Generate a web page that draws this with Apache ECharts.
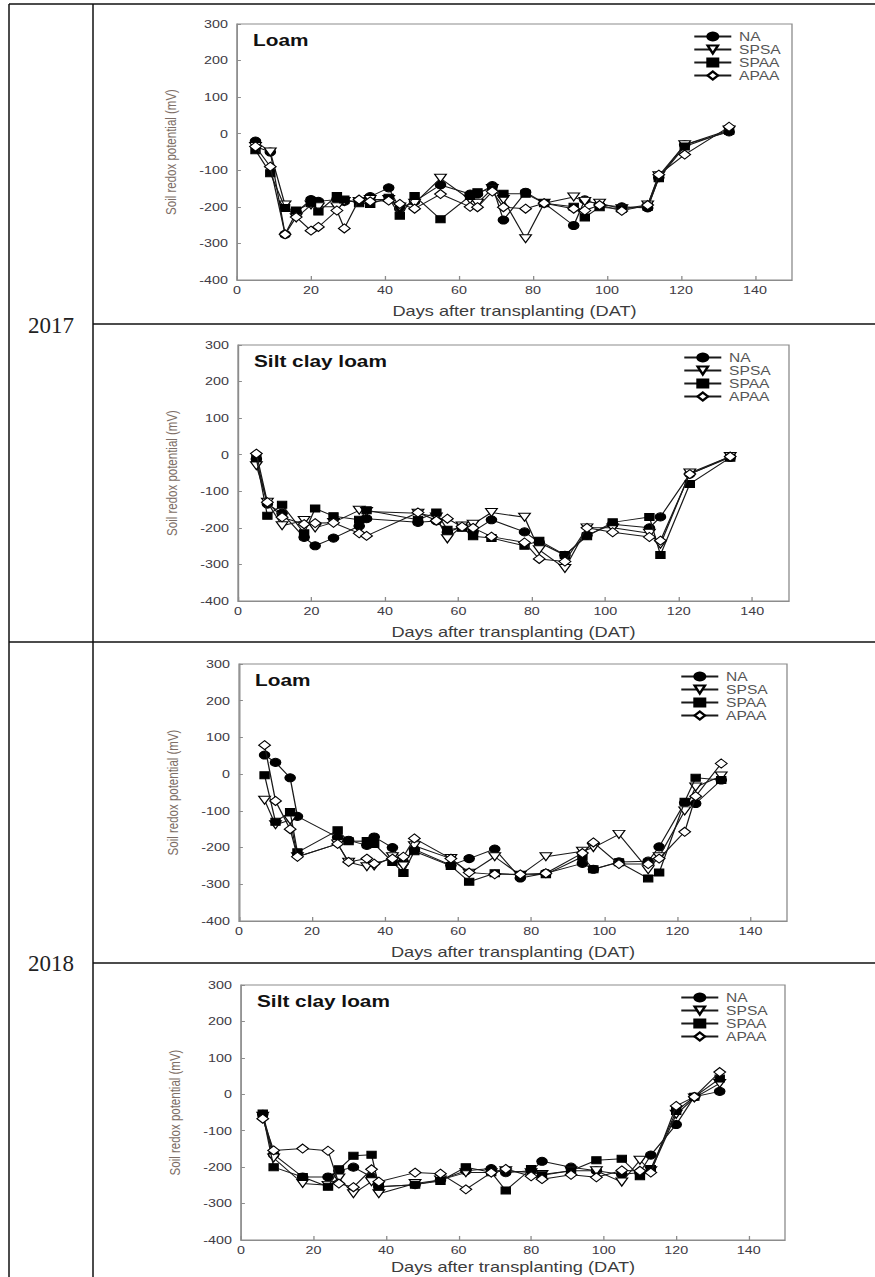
<!DOCTYPE html>
<html>
<head>
<meta charset="utf-8">
<script src="https://cdn.jsdelivr.net/npm/echarts@6/dist/echarts.min.js"></script>
<style>
  html, body { margin: 0; padding: 0; background: #fff; }
  #frame { position: absolute; left: 0; top: 0; width: 875px; height: 1277px; }
  #plots { position: absolute; left: 0; top: 0; height: 1277px; transform-origin: 0 0; }
</style>
</head>
<body>
<div id="frame"></div>
<div id="plots"></div>
<script>
// ---- data ----
const seriesNames = ['NA', 'SPSA', 'SPAA', 'APAA'];
const yearLabels = ['2017', '2018'];
const soilLabels = ['Loam', 'Silt clay loam', 'Loam', 'Silt clay loam'];
const xTitle = 'Days after transplanting (DAT)';
const yTitle = 'Soil redox potential (mV)';
const xTicks = [0, 20, 40, 60, 80, 100, 120, 140];
const yTicks = [-400, -300, -200, -100, 0, 100, 200, 300];

// 2017, loam
const loam2017Days = [5, 9, 13, 16, 20, 22, 27, 29, 33, 36, 41, 44, 48, 55, 63, 65, 69, 72, 78, 83, 91, 94, 98, 104, 111, 114, 121, 133];
const loam2017NA   = [-20, -50, -275, -215, -180, -185, -180, -185, -185, -172, -148, -205, -185, -140, -165, -165, -142, -236, -160, -190, -251, -181, -195, -200, -203, -120, -30, 5];
const loam2017SPSA = [-35, -50, -195, -230, -195, -200, -200, -185, -185, -180, -180, -200, -190, -122, -180, -190, -150, -180, -287, -190, -173, -185, -190, -205, -195, -115, -30, 10];
const loam2017SPAA = [-45, -108, -203, -210, -190, -213, -170, -180, -190, -192, -175, -224, -170, -234, -170, -160, -150, -164, -164, -190, -200, -229, -201, -205, -200, -122, -35, 8];
const loam2017APAA = [-35, -90, -275, -228, -265, -255, -210, -259, -180, -185, -183, -192, -205, -165, -200, -201, -158, -201, -205, -190, -205, -210, -195, -211, -195, -112, -57, 19];

// 2017, silt clay loam
const silt2017Days = [5, 8, 12, 18, 21, 26, 33, 35, 49, 54, 57, 61, 64, 69, 78, 82, 89, 95, 102, 112, 115, 123, 134];
const silt2017NA   = [-12, -135, -160, -226, -249, -228, -195, -175, -185, -181, -212, -197, -210, -178, -211, -240, -275, -220, -190, -200, -170, -53, -7];
const silt2017SPSA = [-30, -130, -194, -180, -200, -185, -152, -155, -160, -170, -230, -195, -190, -158, -171, -260, -311, -200, -200, -215, -245, -50, -5];
const silt2017SPAA = [-10, -167, -137, -215, -147, -168, -178, -152, -178, -158, -205, -200, -223, -228, -249, -235, -274, -223, -185, -170, -274, -80, -8];
const silt2017APAA = [3, -130, -171, -190, -187, -186, -215, -222, -158, -180, -175, -197, -200, -224, -240, -285, -292, -200, -212, -225, -235, -53, -5];

// 2018, loam
const loam2018Days = [7, 10, 14, 16, 27, 30, 35, 37, 42, 45, 48, 58, 63, 70, 77, 84, 94, 97, 104, 112, 115, 122, 125, 132];
const loam2018NA   = [52, 32, -10, -115, -172, -180, -194, -171, -200, -240, -205, -248, -230, -204, -283, -270, -243, -259, -239, -237, -198, -78, -80, -16];
const loam2018SPSA = [-71, -138, -125, -225, -190, -240, -252, -250, -225, -250, -195, -230, -270, -225, -275, -225, -210, -200, -164, -260, -225, -100, -35, -5];
const loam2018SPAA = [-3, -130, -103, -213, -153, -183, -182, -190, -239, -269, -210, -250, -293, -270, -275, -273, -225, -259, -240, -284, -268, -75, -10, -16];
const loam2018APAA = [79, -73, -150, -225, -190, -239, -230, -244, -230, -225, -175, -230, -268, -273, -273, -270, -215, -186, -245, -245, -230, -157, -60, 29];

// 2018, silt clay loam
const silt2018Days = [6, 9, 17, 24, 27, 31, 36, 38, 48, 55, 62, 69, 73, 80, 83, 91, 98, 105, 110, 113, 120, 125, 132];
const silt2018NA   = [-55, -165, -227, -227, -210, -200, -227, -254, -248, -235, -210, -204, -215, -210, -184, -200, -210, -220, -215, -167, -83, -7, 8];
const silt2018SPSA = [-60, -175, -245, -250, -230, -273, -240, -273, -245, -235, -215, -215, -210, -215, -220, -210, -210, -241, -181, -210, -55, -10, 30];
const silt2018SPAA = [-53, -200, -227, -254, -206, -169, -166, -254, -248, -238, -200, -214, -264, -205, -222, -210, -181, -177, -225, -205, -46, -7, 43];
const silt2018APAA = [-67, -154, -149, -155, -245, -255, -206, -240, -215, -218, -261, -215, -205, -225, -233, -221, -228, -209, -210, -215, -32, -7, 61];

const panelData = [
  { days: loam2017Days, values: [loam2017NA, loam2017SPSA, loam2017SPAA, loam2017APAA] },
  { days: silt2017Days, values: [silt2017NA, silt2017SPSA, silt2017SPAA, silt2017APAA] },
  { days: loam2018Days, values: [loam2018NA, loam2018SPSA, loam2018SPAA, loam2018APAA] },
  { days: silt2018Days, values: [silt2018NA, silt2018SPSA, silt2018SPAA, silt2018APAA] }
];

// ---- layout (page pixels) ----
const PAGE_W = 875, PAGE_H = 1277;
const SX = 1.3;               // panels are drawn narrow and widened horizontally
const sx = v => v / SX;
const panels = [
  { left: 237, top: 24,  right: 792, bottom: 280,  legendX: 693, xNameGap: 24 },
  { left: 238, top: 345, right: 789, bottom: 601,  legendX: 683, xNameGap: 24 },
  { left: 239, top: 664, right: 787, bottom: 921,  legendX: 680, xNameGap: 24 },
  { left: 241, top: 985, right: 785, bottom: 1240, legendX: 680, xNameGap: 20 }
];
const FONT = 'Liberation Sans, Arial, sans-serif';
const AXIS_GRAY = '#8c8c8c';

// marker styles per treatment
const markerShape = ['circle', 'path://M0,0 L10,0 L5,9 Z', 'rect', 'diamond'];
const markerSize  = [8, [9, 8], 7, 9];
const markerFill  = ['#000', '#fff', '#000', '#fff'];

// ---- table frame and year column ----
const frameChart = echarts.init(document.getElementById('frame'), null, { renderer: 'svg' });
const tableLines = [
  [9, 4, PAGE_W, 4],
  [9, 4, 9, PAGE_H],
  [93, 4, 93, PAGE_H],
  [93, 324, PAGE_W, 324],
  [9, 642, PAGE_W, 642],
  [93, 963, PAGE_W, 963]
];
const yearY = [325, 963];
frameChart.setOption({
  animation: false,
  graphic: [
    ...tableLines.map(l => ({
      type: 'line',
      shape: { x1: l[0], y1: l[1], x2: l[2], y2: l[3] },
      style: { stroke: '#111', lineWidth: 1.5 }
    })),
    ...yearLabels.map((t, i) => ({
      type: 'text',
      x: 51, y: yearY[i],
      style: {
        text: t, fill: '#222', align: 'center', verticalAlign: 'middle',
        font: '23px "Liberation Serif", "Times New Roman", serif'
      }
    }))
  ]
});

// ---- the four panels ----
const plotsEl = document.getElementById('plots');
plotsEl.style.width = sx(PAGE_W) + 'px';
plotsEl.style.transform = 'scaleX(' + SX + ')';
const chart = echarts.init(plotsEl, null, { renderer: 'svg' });

const option = {
  animation: false,
  backgroundColor: 'transparent',
  title: panels.map((p, i) => ({
    text: soilLabels[i],
    left: sx(p.left + 16),
    top: p.top + 8,
    padding: 0,
    textStyle: { fontSize: 16, fontWeight: 'bold', color: '#111', fontFamily: FONT }
  })),
  legend: panels.map(p => ({
    data: seriesNames,
    orient: 'vertical',
    left: sx(p.legendX),
    top: p.top + 6,
    padding: 0,
    itemGap: 0,
    itemWidth: sx(37),
    itemHeight: 10,
    selectedMode: false,
    textStyle: { fontSize: 12, lineHeight: 13, color: '#555', fontFamily: FONT, padding: [0, 0, 0, 1] }
  })),
  grid: panels.map(p => ({
    left: sx(p.left),
    top: p.top,
    width: sx(p.right - p.left),
    height: p.bottom - p.top,
    show: true,
    borderColor: AXIS_GRAY,
    borderWidth: 1,
    backgroundColor: 'transparent',
    outerBoundsMode: 'none'
  })),
  xAxis: panels.map((p, i) => ({
    type: 'value',
    gridIndex: i,
    min: xTicks[0],
    max: 150,
    interval: xTicks[1] - xTicks[0],
    name: xTitle,
    nameLocation: 'middle',
    nameGap: p.xNameGap,
    nameTextStyle: { fontSize: 14, color: '#3c3c3c', fontFamily: FONT },
    axisLine: { show: true, onZero: false, lineStyle: { color: AXIS_GRAY, width: 1 } },
    axisTick: { show: true, inside: true, length: 4, lineStyle: { color: AXIS_GRAY } },
    splitLine: { show: false },
    axisLabel: {
      showMaxLabel: false, margin: 5, fontSize: 11, color: '#3e3a44', fontFamily: FONT,
      formatter: v => (xTicks.indexOf(v) >= 0 ? String(v) : '')
    }
  })),
  yAxis: panels.map((p, i) => ({
    type: 'value',
    gridIndex: i,
    min: yTicks[0],
    max: yTicks[yTicks.length - 1],
    interval: yTicks[1] - yTicks[0],
    name: yTitle,
    nameLocation: 'middle',
    nameGap: 45,
    nameTextStyle: { fontSize: 11.5, color: '#7d6e66', fontFamily: FONT },
    axisLine: { show: true, onZero: false, lineStyle: { color: AXIS_GRAY, width: 1 } },
    axisTick: { show: true, inside: true, length: 3, lineStyle: { color: AXIS_GRAY } },
    splitLine: { show: false },
    axisLabel: { margin: 7, fontSize: 11, color: '#3e3a44', fontFamily: FONT }
  })),
  series: panelData.flatMap((pd, i) => seriesNames.map((name, k) => ({
    type: 'line',
    name: name,
    xAxisIndex: i,
    yAxisIndex: i,
    data: pd.days.map((d, j) => [d, pd.values[k][j]]),
    symbol: markerShape[k],
    symbolSize: markerSize[k],
    showAllSymbol: true,
    itemStyle: { color: markerFill[k], borderColor: '#000', borderWidth: 1, opacity: 1 },
    lineStyle: { color: '#1a1a1a', width: 1 },
    emphasis: { disabled: true },
    z: 2 + k
  })))
};
chart.setOption(option);
</script>
</body>
</html>
